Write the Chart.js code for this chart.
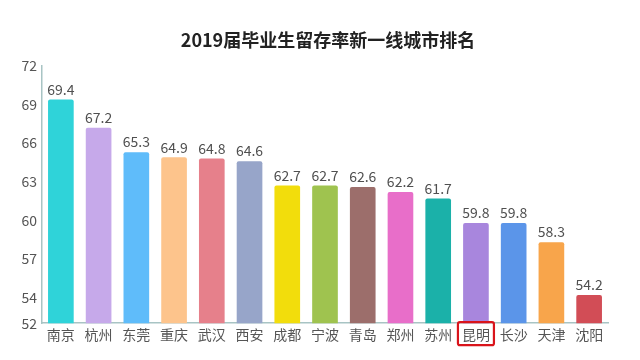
<!DOCTYPE html>
<html>
<head>
<meta charset="utf-8">
<script src="https://cdn.jsdelivr.net/npm/chart.js@4/dist/chart.umd.min.js"></script>
<style>
html, body { margin: 0; padding: 0; background: #fff; }
#wrap { width: 640px; height: 360px; }
</style>
</head>
<body>
<div id="wrap"><canvas id="myChart" width="640" height="360"></canvas></div>
<script>
'use strict';
const TITLE = '2019届毕业生留存率新一线城市排名';
const cities = ['南京', '杭州', '东莞', '重庆', '武汉', '西安', '成都', '宁波', '青岛', '郑州', '苏州', '昆明', '长沙', '天津', '沈阳'];
const retention = [69.4, 67.2, 65.3, 64.9, 64.8, 64.6, 62.7, 62.7, 62.6, 62.2, 61.7, 59.8, 59.8, 58.3, 54.2];
const barColors = ['#2fd3d9', '#c6a9ea', '#5fbcfa', '#fdc48c', '#e6808b', '#97a5c9', '#f2dd0c', '#9fc34f', '#9c6e6b', '#e86ec9', '#1bb1a9', '#a886dd', '#5b95e9', '#f8a54b', '#d24d56'];
const yTicks = [52, 54, 57, 60, 63, 66, 69, 72];
const highlightIndex = 11;
const FONT = '"Noto Sans CJK SC", "Noto Sans", sans-serif';

// title drawn by hand so it can sit a bit right of the canvas centre
const titleText = {
    id: 'titleText',
    afterDraw(chart) {
        const ctx = chart.ctx;
        ctx.save();
        ctx.font = 'bold 18px ' + FONT;
        ctx.fillStyle = '#222';
        ctx.textAlign = 'center';
        ctx.textBaseline = 'middle';
        ctx.fillText(TITLE, 328, 40);
        ctx.restore();
    }
};

// value labels above each bar
const valueLabels = {
    id: 'valueLabels',
    afterDatasetsDraw(chart) {
        const ctx = chart.ctx;
        const meta = chart.getDatasetMeta(0);
        ctx.save();
        ctx.font = '14px ' + FONT;
        ctx.fillStyle = '#505050';
        ctx.textAlign = 'center';
        ctx.textBaseline = 'bottom';
        meta.data.forEach((bar, i) => {
            ctx.fillText(retention[i].toFixed(1), bar.x, bar.y - 3);
        });
        ctx.restore();
    }
};

// red box round the highlighted city label
const highlightBox = {
    id: 'highlightBox',
    afterDraw(chart) {
        const ctx = chart.ctx;
        const x = chart.scales.x.getPixelForValue(highlightIndex);
        const top = chart.chartArea.bottom - 1;
        ctx.save();
        ctx.strokeStyle = '#d9141b';
        ctx.lineWidth = 2.2;
        ctx.beginPath();
        ctx.roundRect(x - 18, top, 36, 23, 2);
        ctx.stroke();
        ctx.restore();
    }
};

const ctx = document.getElementById('myChart').getContext('2d');
new Chart(ctx, {
    type: 'bar',
    data: {
        labels: cities,
        datasets: [{
            data: retention,
            backgroundColor: barColors,
            borderRadius: 2,
            borderSkipped: 'bottom',
            categoryPercentage: 1,
            barPercentage: 0.68
        }]
    },
    options: {
        responsive: false,
        animation: false,
        layout: { padding: { left: 0, right: 32, top: 66, bottom: 14 } },
        plugins: {
            legend: { display: false },
            tooltip: { enabled: false },
            title: { display: false }
        },
        scales: {
            x: {
                grid: { display: false, drawTicks: false },
                border: { color: '#a8c4c4', width: 1.5 },
                ticks: { color: '#555', font: { family: FONT, size: 14 }, padding: 3, autoSkip: false, maxRotation: 0 }
            },
            y: {
                min: 52,
                max: 72,
                afterBuildTicks(axis) {
                    axis.ticks = yTicks.map(v => ({ value: v }));
                },
                afterFit(axis) {
                    axis.width = 42;
                },
                grid: { display: false, drawTicks: true, tickLength: 3, color: '#a8c4c4' },
                border: { color: '#a8c4c4', width: 1.5 },
                ticks: { color: '#555', font: { family: FONT, size: 14 }, padding: 2 }
            }
        }
    },
    plugins: [titleText, valueLabels, highlightBox]
});
</script>
</body>
</html>
